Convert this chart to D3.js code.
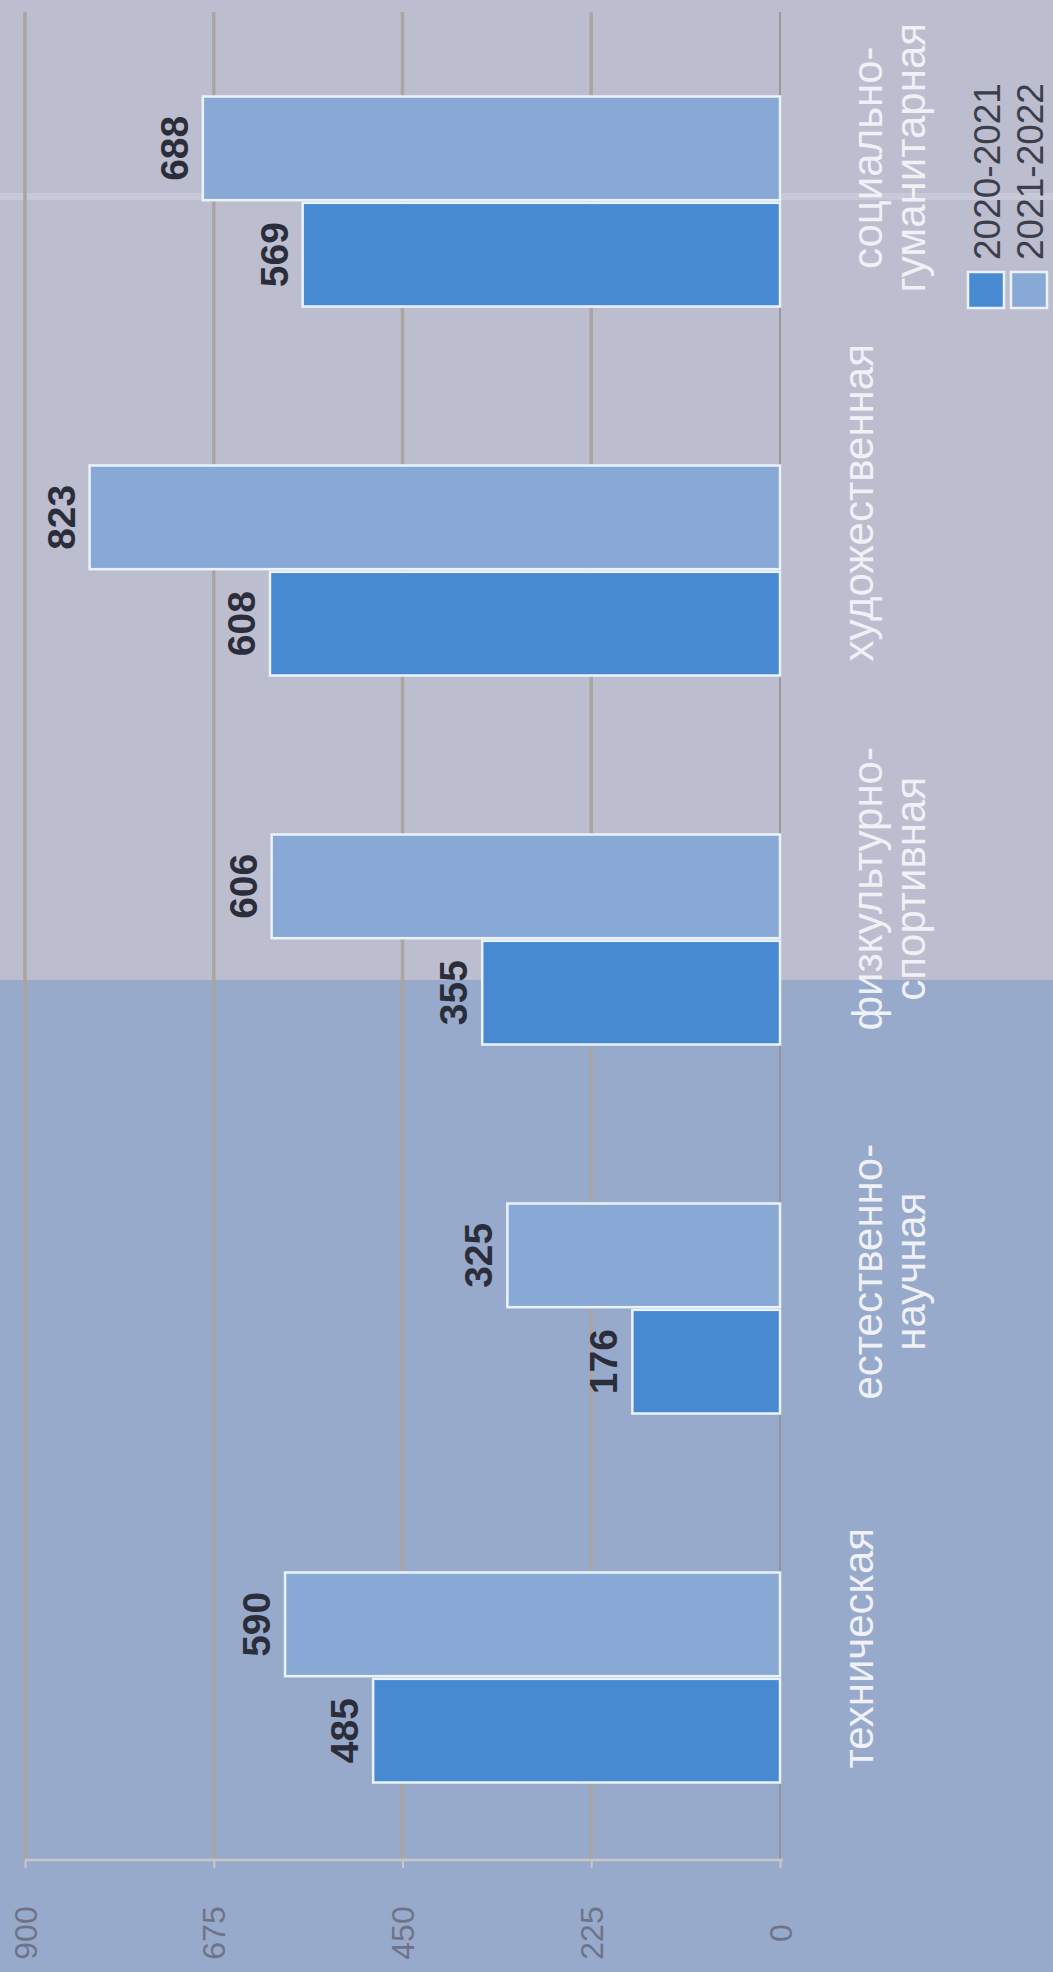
<!DOCTYPE html>
<html><head><meta charset="utf-8">
<script src="https://cdn.jsdelivr.net/npm/d3@7"></script>
<style>
html,body{margin:0;padding:0;background:#bcbdd0;}
svg{display:block;}
text{font-family:"Liberation Sans",Arial,Helvetica,sans-serif;}
</style>
</head><body>
<svg id="chart" width="1053" height="1972"></svg>
<script>
// ---- data ----
const categories = ["техническая", "естественно-научная", "физкультурно-спортивная", "художественная", "социально-гуманитарная"];
const categoryLines = [["техническая"], ["естественно-", "научная"], ["физкультурно-", "спортивная"], ["художественная"], ["социально-", "гуманитарная"]];
const seriesNames = ["2020-2021", "2021-2022"];
const values2020 = [485, 176, 355, 608, 569];
const values2021 = [590, 325, 606, 823, 688];
const tickValues = [0, 225, 450, 675, 900];
const tickLabels = ["0", "225", "450", "675", "900"];

const W = 1053, H = 1972;
const svg = d3.select("#chart");

// background (photo tint)
const bg = svg.append("g");
bg.append("rect").attr("x", 0).attr("y", 0).attr("width", W).attr("height", 980).attr("fill", "#bdbdd0");
bg.append("rect").attr("x", 0).attr("y", 980).attr("width", W).attr("height", H - 980).attr("fill", "#98aacb");
bg.append("rect").attr("x", 0).attr("y", 193).attr("width", W).attr("height", 7).attr("fill", "#d3d6e0").attr("opacity", 0.5);

// scales (chart is a vertical bar chart rotated -90deg)
const x = d3.scaleLinear().domain([0, 900]).range([780, 25]);
const yGroup = d3.scalePoint().domain(categories).range([1677.5, 201.5]);
const half = 105;
const ySub = d3.scaleBand().domain(["2021-2022", "2020-2021"]).range([-half, half]).paddingInner(0.025);
const color = d3.scaleOrdinal().domain(seriesNames).range(["#488ad2", "#88a9d5"]);

const rows = categories.map((c, i) => ({cat: c, lines: categoryLines[i], vals: [
  {s: seriesNames[0], v: values2020[i]},
  {s: seriesNames[1], v: values2021[i]}
]}));

// gridlines
const grid = svg.append("g");
grid.selectAll("line").data(tickValues).join("line")
  .attr("x1", d => x(d)).attr("x2", d => x(d))
  .attr("y1", 12).attr("y2", 1860)
  .attr("stroke", d => d === 0 ? "#8f8c8c" : "#aaa59f")
  .attr("stroke-width", d => d === 0 ? 1.5 : 3.5);

// bottom axis
const axisG = svg.append("g").attr("transform", "translate(0,1860)");
axisG.call(d3.axisBottom(x).tickValues(tickValues).tickFormat(d => tickLabels[tickValues.indexOf(d)]).tickSize(8));
axisG.select(".domain").attr("stroke", "#c9c7c6").attr("stroke-width", 2.5).attr("d", `M${x(900)},0H${x(0)+3}`);
axisG.selectAll(".tick line").attr("stroke", "#c9c7c6").attr("stroke-width", 2);
axisG.selectAll(".tick text")
  .attr("y", null).attr("dy", null)
  .attr("transform", "translate(0,73) rotate(-90)")
  .attr("text-anchor", "middle")
  .attr("dominant-baseline", "central")
  .attr("fill", "#6f7387")
  .style("font-size", "32px");

// bars
const groups = svg.append("g").selectAll("g").data(rows).join("g")
  .attr("transform", d => `translate(0,${yGroup(d.cat)})`);

groups.selectAll("rect").data(d => d.vals).join("rect")
  .attr("x", d => x(d.v))
  .attr("y", d => ySub(d.s))
  .attr("width", d => x(0) - x(d.v))
  .attr("height", ySub.bandwidth())
  .attr("fill", d => color(d.s))
  .attr("stroke", "#eaf3fc")
  .attr("stroke-width", 2.5);

// value labels
groups.selectAll("text.val").data(d => d.vals).join("text").attr("class", "val")
  .attr("transform", d => `translate(${x(d.v) - 15},${ySub(d.s) + ySub.bandwidth() / 2}) rotate(-90)`)
  .attr("text-anchor", "middle")
  .attr("fill", "#2b2e3a")
  .style("font-size", "39px")
  .style("font-weight", "bold")
  .text(d => d.v);

// category labels
const catG = svg.append("g");
rows.forEach(r => {
  const multi = r.lines.length > 1;
  const t = catG.append("text")
    .attr("text-anchor", "middle")
    .attr("fill", "#eff1f7")
    .style("font-size", "42px");
  r.lines.forEach((ln, j) => {
    t.append("tspan").attr("x", 0).attr("y", j * 43).text(ln);
  });
  let maxLen = 0;
  t.selectAll("tspan").each(function() { maxLen = Math.max(maxLen, this.getComputedTextLength()); });
  const bottom = yGroup(r.cat) + half - 14;
  const cy = bottom - maxLen / 2;
  t.attr("transform", `translate(${multi ? 882 : 873},${cy}) rotate(-90)`);
});

// legend
const leg = svg.append("g");
const legItems = leg.selectAll("g").data(seriesNames).join("g")
  .attr("transform", (d, i) => `translate(${968 + i * 43},0)`);
legItems.append("rect")
  .attr("x", 0).attr("y", 272).attr("width", 36).attr("height", 36)
  .attr("fill", d => color(d))
  .attr("stroke", "#eaf3fc").attr("stroke-width", 2.5);
legItems.append("text")
  .attr("transform", "translate(32,260) rotate(-90)")
  .attr("text-anchor", "start")
  .attr("fill", "#3b3e4b")
  .style("font-size", "37px")
  .text(d => d);
</script>
</body></html>
